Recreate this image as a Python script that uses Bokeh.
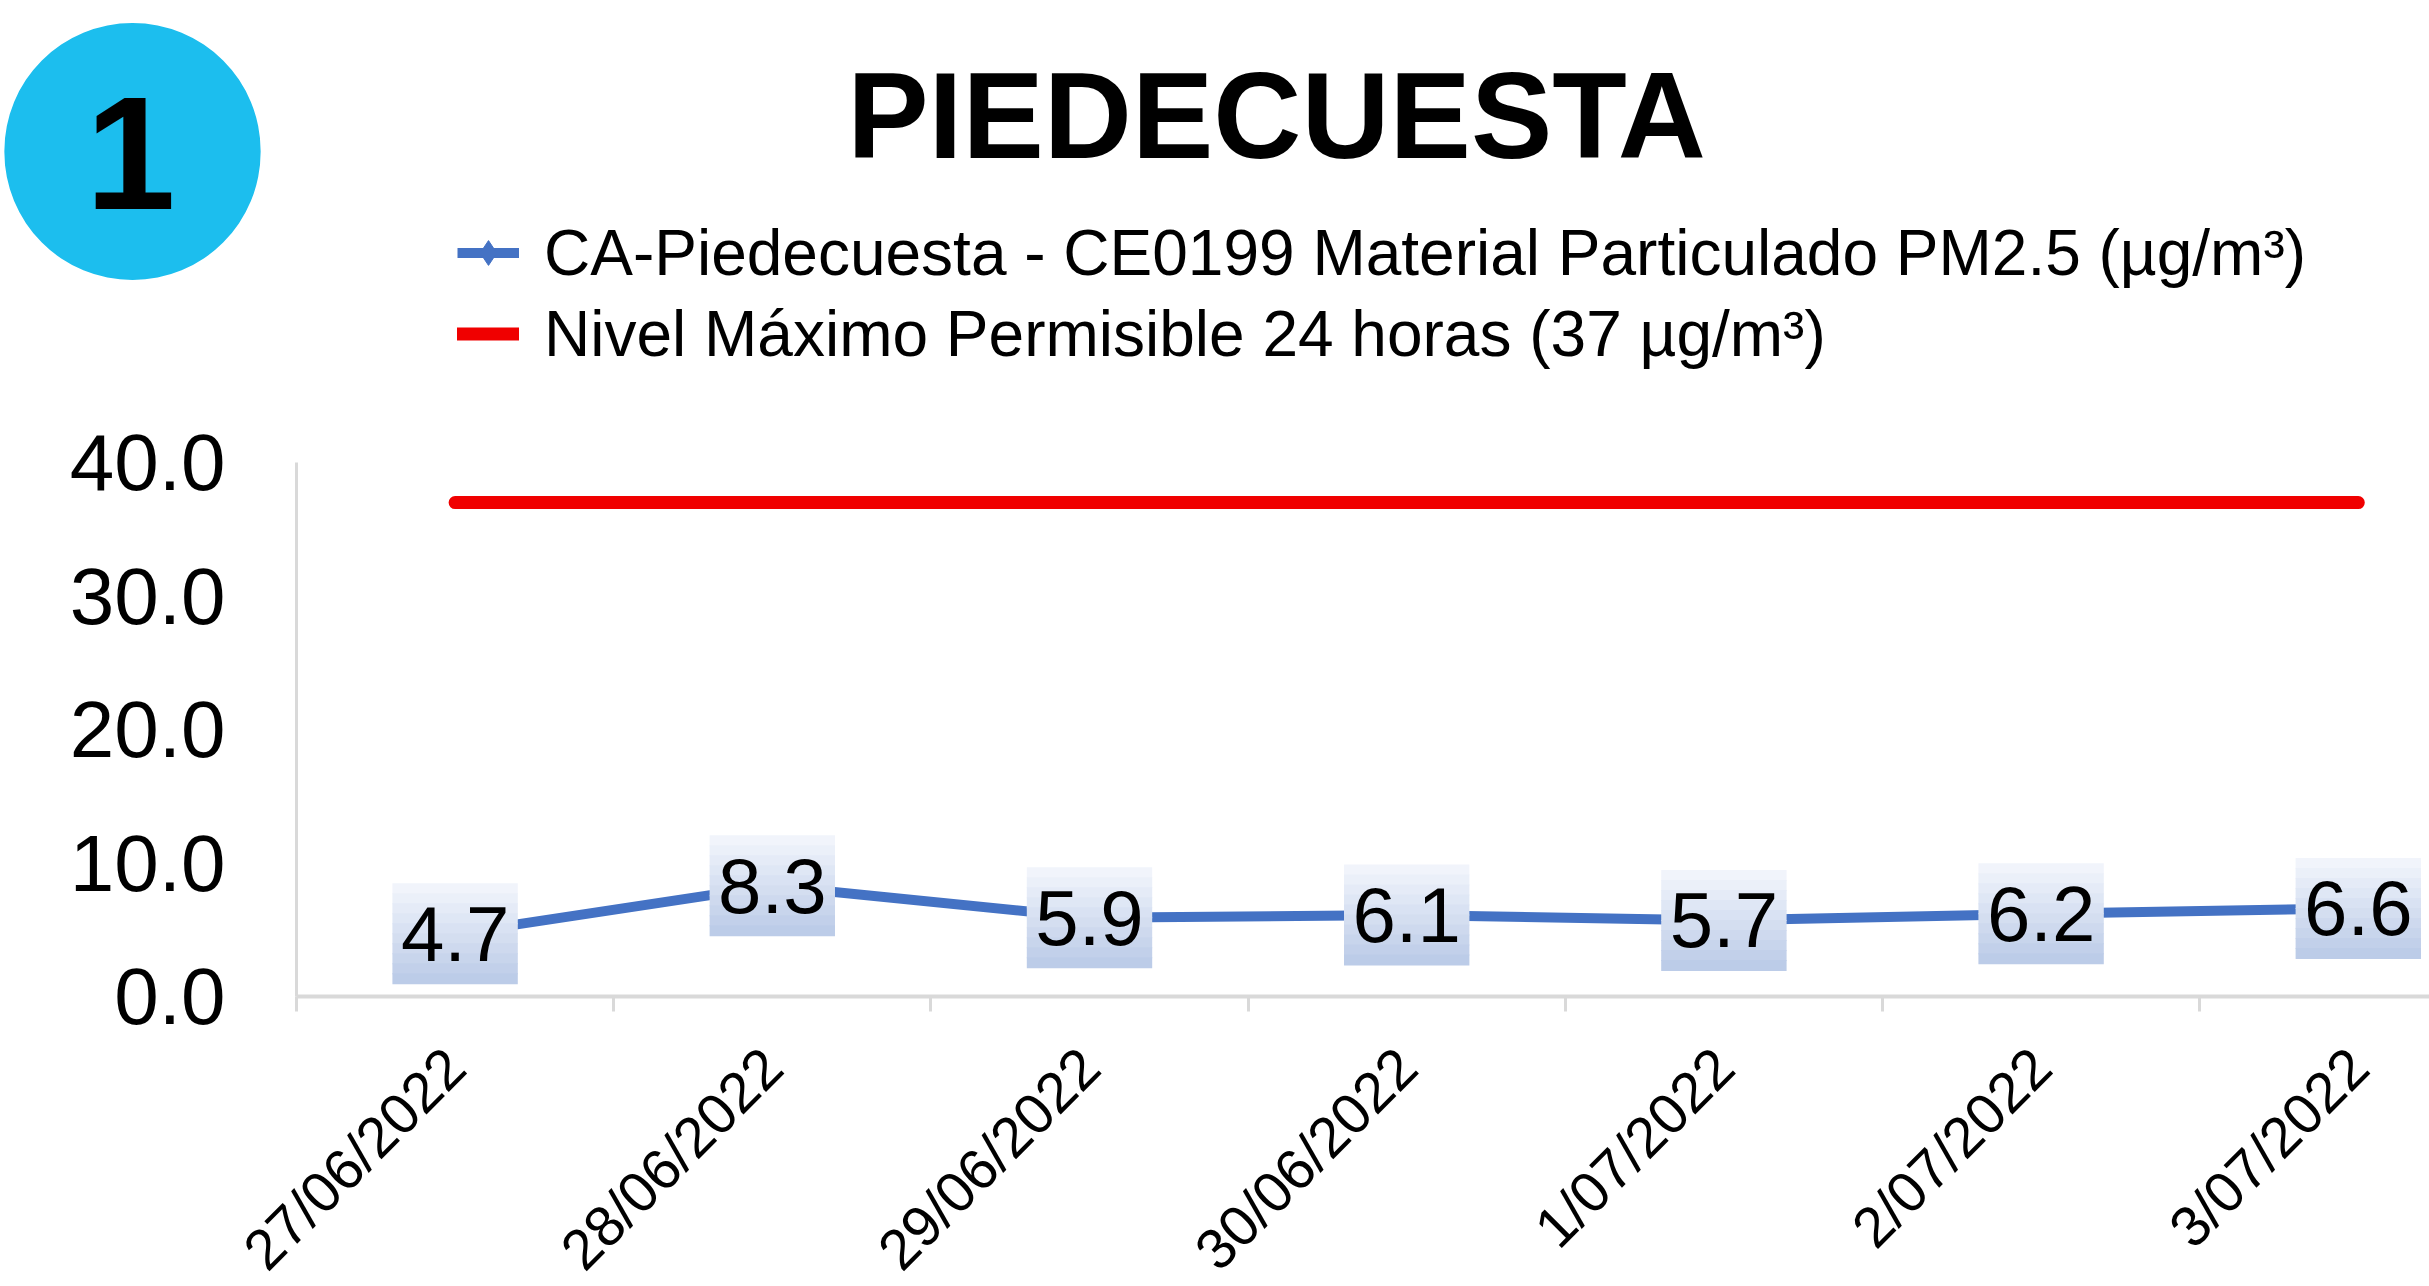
import math
from bokeh.plotting import figure
from bokeh.models import (Range1d, FixedTicker, Label, Legend, LegendItem,
                          ColumnDataSource, NumeralTickFormatter)
from bokeh.core.properties import value
from bokeh.embed import file_html
from bokeh.resources import INLINE

# ---- data ----
dates = ["27/06/2022", "28/06/2022", "29/06/2022", "30/06/2022",
         "1/07/2022", "2/07/2022", "3/07/2022"]
pm25 = [4.7, 8.3, 5.9, 6.1, 5.7, 6.2, 6.6]
limit_24h = [37.0, 37.0, 37.0, 37.0, 37.0, 37.0, 37.0]
y_ticks = [0, 10, 20, 30, 40]
series_name = "CA-Piedecuesta - CE0199 Material Particulado PM2.5 (µg/m³)"
limit_name = "Nivel Máximo Permisible 24 horas (37 µg/m³)"
title_text = "PIEDECUESTA"
badge_text = "1"

FONT = "Liberation Sans"
W, H = 2429, 1286

# layout geometry (pixels in the figure)
AX_X = 296            # x pixel of the y axis (category boundary -0.5)
CAT_W = 317.2         # pixels per category
Y0 = 996              # y pixel of value 0
PX_PER_UNIT = 13.35   # pixels per µg/m³

x_start = -0.5 - AX_X / CAT_W
x_end = -0.5 + (W - AX_X) / CAT_W
y_start = -(H - Y0) / PX_PER_UNIT
y_end = Y0 / PX_PER_UNIT

src = ColumnDataSource(dict(
    x=list(range(len(dates))),
    pm=pm25,
    lim=limit_24h,
    lbl=[f"{v:.1f}" for v in pm25],
))

p = figure(width=W, height=H, output_backend="svg", toolbar_location=None,
           x_range=Range1d(x_start, x_end), y_range=Range1d(y_start, y_end),
           min_border=0, min_border_left=0, min_border_right=0,
           min_border_top=0, min_border_bottom=0)
p.outline_line_color = None
p.xgrid.visible = False
p.ygrid.visible = False
p.background_fill_color = "white"
p.border_fill_color = "white"

# y axis
p.yaxis.fixed_location = -0.5
p.yaxis.bounds = (0, 40)
p.yaxis.ticker = FixedTicker(ticks=y_ticks)
p.yaxis.formatter = NumeralTickFormatter(format="0.0")
p.yaxis.axis_line_color = "#D9D9D9"
p.yaxis.axis_line_width = 3
p.yaxis.major_tick_line_color = None
p.yaxis.minor_tick_line_color = None
p.yaxis.major_tick_out = 0
p.yaxis.major_tick_in = 0
p.yaxis.major_label_standoff = 71
p.yaxis.major_label_text_font = FONT
p.yaxis.major_label_text_font_size = "80px"
p.yaxis.major_label_text_color = "black"

# x axis
p.xaxis.fixed_location = 0
p.xaxis.bounds = (-0.5, x_end)
p.xaxis.ticker = FixedTicker(ticks=list(range(len(dates))),
                             minor_ticks=[i - 0.5 for i in range(len(dates) + 1)])
p.xaxis.major_label_overrides = {i: d for i, d in enumerate(dates)}
p.xaxis.axis_line_color = "#D9D9D9"
p.xaxis.axis_line_width = 4
p.xaxis.major_tick_line_color = None
p.xaxis.major_tick_out = 0
p.xaxis.major_tick_in = 0
p.xaxis.minor_tick_line_color = "#D9D9D9"
p.xaxis.minor_tick_line_width = 3
p.xaxis.minor_tick_out = 15
p.xaxis.minor_tick_in = 0
p.xaxis.major_label_orientation = math.pi / 4
p.xaxis.major_label_standoff = 46
p.xaxis.major_label_text_font = FONT
p.xaxis.major_label_text_font_size = "57px"
p.xaxis.major_label_text_color = "black"

# series
r_lim = p.line("x", "lim", source=src, line_color="#F00000", line_width=13,
               line_cap="round")
r_pm = p.line("x", "pm", source=src, line_color="#4472C4", line_width=10)
r_pm_m = p.scatter("x", "pm", source=src, marker="diamond", size=30,
                   fill_color="#4472C4", line_color="#4472C4")

# data label boxes (vertical gradient made of stripes)
N = 10
top = (241, 244, 251)
bot = (188, 204, 232)
for i in range(N):
    t = i / (N - 1)
    c = tuple(int(round(top[k] + (bot[k] - top[k]) * t)) for k in range(3))
    col = "#%02x%02x%02x" % c
    p.text("x", "pm", text="lbl", source=src, text_font_size="1px", text_alpha=0,
           text_align="center", text_baseline="middle",
           background_fill_color=col,
           padding=dict(left=62, right=62, top=5, bottom=5),
           y_offset=-45 + 10 * i)

p.text("x", "pm", text="lbl", source=src, text_font=value(FONT),
       text_font_size="78px", text_color="black",
       text_align="center", text_baseline="middle")

# legend
legend = Legend(items=[
    LegendItem(label=series_name, renderers=[r_pm, r_pm_m]),
    LegendItem(label=limit_name, renderers=[r_lim]),
], location=(457, 912), orientation="vertical",
    label_text_font=FONT, label_text_font_size="64px", label_text_color="black",
    glyph_width=62, glyph_height=81, label_height=81,
    spacing=0, padding=0, margin=0, label_standoff=25,
    background_fill_alpha=0, border_line_alpha=0)
p.add_layout(legend)

# header: badge circle, number, title
p.add_layout(Label(x=132, y=151, x_units="canvas", y_units="canvas", text=" ",
                   text_font_size="1px", text_align="center", text_baseline="middle",
                   padding=128, border_radius=128,
                   background_fill_color="#1CBEEE"))
p.add_layout(Label(x=130, y=152, x_units="canvas", y_units="canvas", text=badge_text,
                   text_font=FONT, text_font_style="bold", text_font_size="162px",
                   text_align="center", text_baseline="middle", text_color="black"))
p.add_layout(Label(x=1276, y=115, x_units="canvas", y_units="canvas", text=title_text,
                   text_font=FONT, text_font_style="bold", text_font_size="122px",
                   text_align="center", text_baseline="middle", text_color="black"))

open("out.html", "w").write(file_html(p, INLINE))
